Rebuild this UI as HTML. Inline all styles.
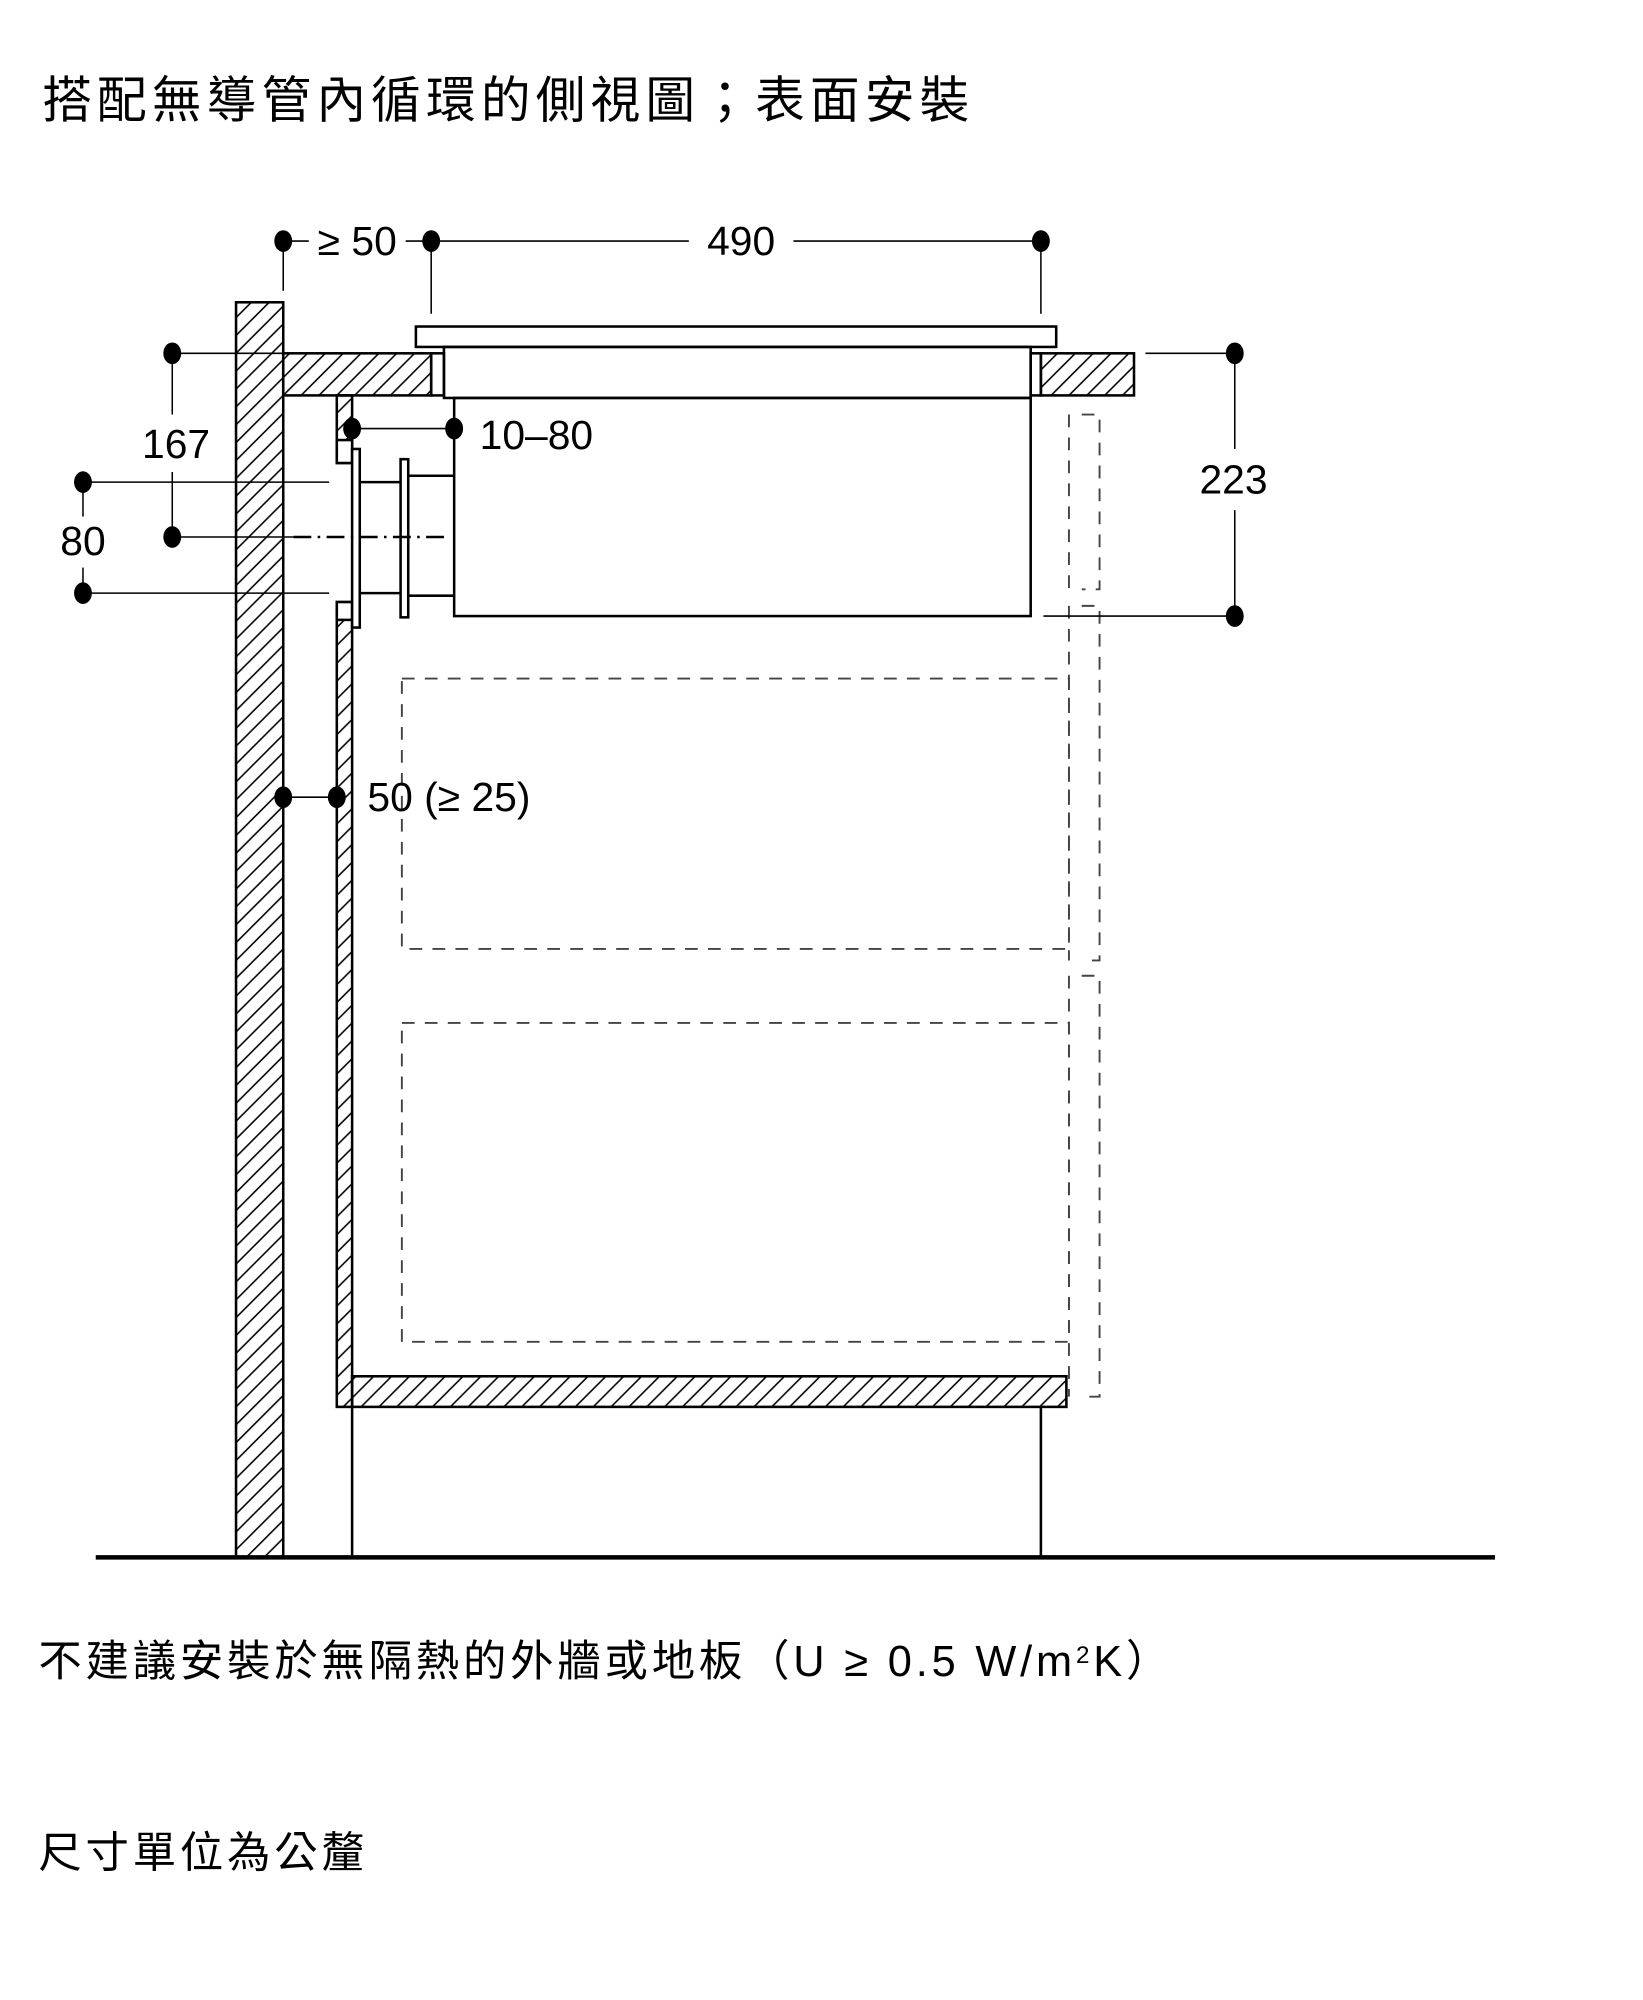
<!DOCTYPE html>
<html><head><meta charset="utf-8"><style>
html,body{margin:0;padding:0;background:#fff;}
svg{display:block;}
text{font-family:"Liberation Sans","Noto Sans CJK TC",sans-serif;fill:#000;}
</style></head><body>
<svg width="1643" height="2000" viewBox="0 0 1288 1568" xmlns="http://www.w3.org/2000/svg">
<defs>
<pattern id="h" patternUnits="userSpaceOnUse" width="14" height="14">
<path d="M-2,16 L16,-2 M-9,9 L9,-9 M5,23 L23,5" stroke="#000" stroke-width="1.2"/>
</pattern>
</defs>
<text x="33" y="92" font-size="39" letter-spacing="4">搭配無導管內循環的側視圖；表面安裝</text>
<text x="30" y="1314" font-size="34" letter-spacing="3">不建議安裝於無隔熱的外牆或地板（U ≥ 0.5 W/m<tspan font-size="19" dy="-10">2</tspan><tspan dy="10">K）</tspan></text>
<text x="30" y="1464" font-size="34" letter-spacing="3">尺寸單位為公釐</text>

<g fill="none" stroke="#000" stroke-width="2">
<rect x="185" y="237" width="37" height="984" fill="url(#h)"/>
<rect x="222" y="277" width="116" height="33" fill="url(#h)"/>
<rect x="338" y="277" width="10" height="33"/>
<rect x="808" y="277" width="8" height="33"/>
<rect x="816" y="277" width="73" height="33" fill="url(#h)"/>
<rect x="326" y="256" width="502" height="16" fill="#fff"/>
<rect x="348" y="272" width="460" height="40"/>
<rect x="356" y="312" width="452" height="171"/>
<rect x="264" y="310" width="12" height="53" fill="url(#h)"/>
<rect x="264" y="345" width="12" height="18" fill="#fff"/>
<rect x="264" y="472" width="12" height="631" fill="url(#h)"/>
<rect x="264" y="472" width="12" height="14" fill="#fff"/>
<rect x="276" y="1079" width="560" height="24" fill="url(#h)"/>
<line x1="276" y1="1103" x2="276" y2="1221"/>
<line x1="816" y1="1103" x2="816" y2="1221"/>
<rect x="276" y="352" width="6" height="140" fill="#fff"/>
<line x1="282" y1="378" x2="314" y2="378"/>
<line x1="282" y1="465" x2="314" y2="465"/>
<rect x="314" y="360" width="6" height="124" fill="#fff"/>
<line x1="320" y1="373" x2="356" y2="373"/>
<line x1="320" y1="467" x2="356" y2="467"/>
</g>
<line x1="75" y1="1221" x2="1172" y2="1221" stroke="#000" stroke-width="3.5"/>

<g fill="none" stroke="#444" stroke-width="1.5" stroke-dasharray="10,8">
<rect x="315" y="532" width="523" height="212"/>
<rect x="315" y="802" width="523" height="250"/>
<path d="M848,325 H862 V462 H848 M838,325 V462"/>
<path d="M848,475 H862 V753 H848 M838,475 V753"/>
<path d="M848,765 H862 V1095 H848 M838,765 V1095"/>
</g>
<line x1="230" y1="421" x2="352" y2="421" stroke="#000" stroke-width="2" stroke-dasharray="14,5,2,5"/>

<g stroke="#000" stroke-width="1.2" fill="none">
<line x1="222" y1="189" x2="242" y2="189"/><line x1="318" y1="189" x2="338" y2="189"/>
<line x1="222" y1="189" x2="222" y2="228"/>
<line x1="338" y1="189" x2="540" y2="189"/><line x1="622" y1="189" x2="816" y2="189"/>
<line x1="338" y1="189" x2="338" y2="246"/><line x1="816" y1="189" x2="816" y2="246"/>
<line x1="135" y1="277" x2="222" y2="277"/>
<line x1="135" y1="277" x2="135" y2="325"/><line x1="135" y1="370" x2="135" y2="421"/>
<line x1="135" y1="421" x2="230" y2="421"/>
<line x1="65" y1="378" x2="258" y2="378"/><line x1="65" y1="465" x2="258" y2="465"/>
<line x1="65" y1="378" x2="65" y2="405"/><line x1="65" y1="445" x2="65" y2="465"/>
<line x1="276" y1="336" x2="356" y2="336"/>
<line x1="898" y1="277" x2="968" y2="277"/><line x1="818" y1="483" x2="968" y2="483"/>
<line x1="968" y1="277" x2="968" y2="352"/><line x1="968" y1="400" x2="968" y2="483"/>
<line x1="222" y1="625" x2="264" y2="625"/>
</g>
<g fill="#000">
<ellipse cx="222" cy="189" rx="7" ry="8.5"/><ellipse cx="338" cy="189" rx="7" ry="8.5"/>
<ellipse cx="816" cy="189" rx="7" ry="8.5"/>
<ellipse cx="135" cy="277" rx="7" ry="8.5"/><ellipse cx="135" cy="421" rx="7" ry="8.5"/>
<ellipse cx="65" cy="378" rx="7" ry="8.5"/><ellipse cx="65" cy="465" rx="7" ry="8.5"/>
<ellipse cx="276" cy="336" rx="7" ry="8.5"/><ellipse cx="356" cy="336" rx="7" ry="8.5"/>
<ellipse cx="968" cy="277" rx="7" ry="8.5"/><ellipse cx="968" cy="483" rx="7" ry="8.5"/>
<ellipse cx="222" cy="625" rx="7" ry="8.5"/><ellipse cx="264" cy="625" rx="7" ry="8.5"/>
</g>
<g font-size="32">
<text x="280" y="200" text-anchor="middle">≥ 50</text>
<text x="581" y="200" text-anchor="middle">490</text>
<text x="138" y="359" text-anchor="middle">167</text>
<text x="65" y="435" text-anchor="middle">80</text>
<text x="376" y="352">10–80</text>
<text x="967" y="387" text-anchor="middle">223</text>
<text x="288" y="636">50 (≥ 25)</text>
</g>
</svg>
</body></html>
